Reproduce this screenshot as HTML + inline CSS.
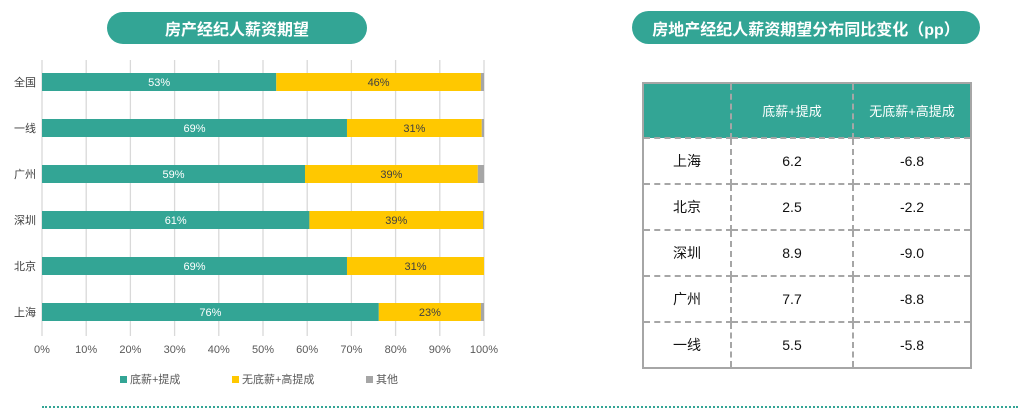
<!DOCTYPE html>
<html><head><meta charset="utf-8"><style>
body{margin:0;width:1018px;height:409px;background:#fff;position:relative;overflow:hidden;font-family:"Liberation Sans","Noto Sans CJK SC",sans-serif}
.pill{position:absolute;background:#33a595;color:#fff;font-weight:bold;font-size:16px;border-radius:17px;display:flex;align-items:center;justify-content:center}
table{position:absolute;left:642px;top:82px;width:330px;border-collapse:collapse;border:2px solid #a6a6a6;font-size:14px}
td{border:2px dashed #a6a6a6;text-align:center;height:44px;padding:0;color:#111}
tr.h td{background:#33a595;color:#fff;height:53px;font-size:13px}
</style></head><body>
<div class="pill" style="left:107px;top:12px;width:260px;height:32px">房产经纪人薪资期望</div>
<div class="pill" style="left:632px;top:11px;width:348px;height:33px">房地产经纪人薪资期望分布同比变化（pp）</div>
<svg id="chart" width="600" height="400" style="position:absolute;left:0;top:0" font-family="Liberation Sans, Noto Sans CJK SC, sans-serif"></svg>
<table>
<tr class="h"><td style="width:86px"></td><td style="width:120px">底薪+提成</td><td>无底薪+高提成</td></tr>
<tr><td>上海</td><td>6.2</td><td>-6.8</td></tr>
<tr><td>北京</td><td>2.5</td><td>-2.2</td></tr>
<tr><td>深圳</td><td>8.9</td><td>-9.0</td></tr>
<tr><td>广州</td><td>7.7</td><td>-8.8</td></tr>
<tr><td>一线</td><td>5.5</td><td>-5.8</td></tr>
</table>
<div style="position:absolute;left:42px;top:406px;width:976px;border-top:2px dotted #33a595"></div>
<script>
const categories=["全国","一线","广州","深圳","北京","上海"];
const base=[53,69,59.5,60.5,69,76.2];
const noBase=[46.3,30.5,39.1,39.3,31,23.1];
const other=[0.7,0.5,1.4,0.2,0,0.7];
const baseLabels=["53%","69%","59%","61%","69%","76%"];
const noBaseLabels=["46%","31%","39%","39%","31%","23%"];
const ticks=[0,10,20,30,40,50,60,70,80,90,100];
const svg=document.getElementById('chart');const NS='http://www.w3.org/2000/svg';
const x0=42,x1=484,yTop=60,yBot=336,row0=82,rowStep=46,bh=18;
const X=v=>x0+(x1-x0)*v/100;const Y=i=>row0+i*rowStep;
function mk(t,a,txt){const e=document.createElementNS(NS,t);for(const k in a)e.setAttribute(k,a[k]);if(txt!=null)e.textContent=txt;svg.appendChild(e);return e;}
ticks.forEach(t=>{const g=mk('line',{x1:X(t),x2:X(t),y1:yTop,y2:yBot,stroke:'#d9d9d9','stroke-width':1.3});


const l=mk('text',{x:X(t),y:353,'text-anchor':'middle','font-size':11,fill:'#595959'},t+'%');

});
categories.forEach((c,i)=>{const y=Y(i)-bh/2;
const cl=mk('text',{x:36,y:Y(i)+4,'text-anchor':'end','font-size':11,fill:'#404040'},c);


const a=mk('rect',{x:X(0),y:y,width:X(base[i])-X(0),height:bh,fill:'#33a595'});


const b=mk('rect',{x:X(base[i]),y:y,width:X(base[i]+noBase[i])-X(base[i]),height:bh,fill:'#ffc800'});


const o=mk('rect',{x:X(base[i]+noBase[i]),y:y,width:X(base[i]+noBase[i]+other[i])-X(base[i]+noBase[i]),height:bh,fill:'#a6a6a6'});


const t1=mk('text',{x:(X(0)+X(base[i]))/2,y:Y(i)+4,'text-anchor':'middle','font-size':11,fill:'#fff'},baseLabels[i]);


const t2=mk('text',{x:(X(base[i])+X(base[i]+noBase[i]))/2,y:Y(i)+4,'text-anchor':'middle','font-size':11,fill:'#404040'},noBaseLabels[i]);

});
const legend=[["底薪+提成","#33a595",120],["无底薪+高提成","#ffc800",232],["其他","#a6a6a6",366]];
legend.forEach(l=>{const r=mk('rect',{x:l[2],y:376,width:7,height:7,fill:l[1]});


const t=mk('text',{x:l[2]+10,y:383,'font-size':11,fill:'#595959'},l[0]);

});
</script>
</body></html>
